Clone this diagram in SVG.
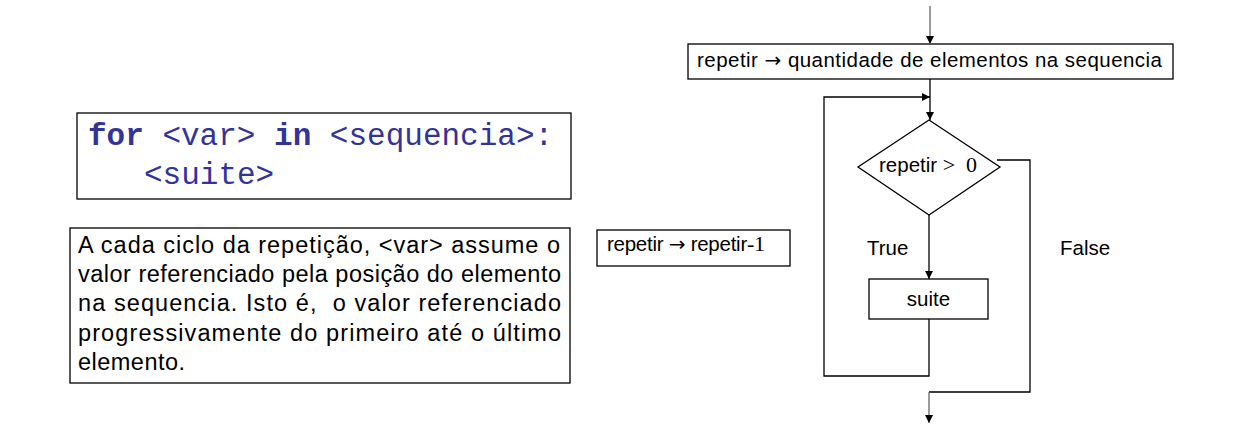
<svg xmlns="http://www.w3.org/2000/svg" width="1256" height="434" viewBox="0 0 1256 434">
<style>
.box{fill:#fff;stroke:#000;stroke-width:1.3}
.ln{fill:none;stroke:#000;stroke-width:1.3}
.gl{fill:none;stroke:#666;stroke-width:1.3}
.t{font-family:"Liberation Sans",Arial,sans-serif;font-size:20.5px;fill:#000}
.s{font-family:"Liberation Serif","Times New Roman",serif;font-size:22px}
.ar{font-family:"DejaVu Sans",sans-serif;font-size:20px}
.code{font-family:"Liberation Mono","Courier New",monospace;font-size:31px;fill:#333399}
.kw{font-weight:bold}
.body{font-family:"Liberation Sans",Arial,sans-serif;font-size:23.5px;fill:#000;white-space:pre}
</style>
<defs>
<marker id="ah" viewBox="0 0 10 10" refX="10" refY="5" markerWidth="8" markerHeight="8" markerUnits="userSpaceOnUse" orient="auto">
<path d="M0,0 L10,5 L0,10 z" fill="#000"/>
</marker>
</defs>
<rect width="1256" height="434" fill="#fff"/>

<g id="code">
<rect class="box" x="77" y="113" width="494" height="86"/>
<text class="code" x="88" y="145"><tspan class="kw">for</tspan> &lt;var&gt; <tspan class="kw">in</tspan> &lt;sequencia&gt;:</text>
<text class="code" x="144" y="184">&lt;suite&gt;</text>
</g>

<g id="explanation">
<rect class="box" x="70" y="228" width="500" height="155"/>
<text class="body" x="78" y="253" textLength="482" lengthAdjust="spacing">A cada ciclo da repetição, &lt;var&gt; assume o</text>
<text class="body" x="78" y="282" textLength="483" lengthAdjust="spacing">valor referenciado pela posição do elemento</text>
<text class="body" x="78" y="311" textLength="483" lengthAdjust="spacing">na sequencia. Isto é,  o valor referenciado</text>
<text class="body" x="78" y="341" textLength="483" lengthAdjust="spacing">progressivamente do primeiro até o último</text>
<text class="body" x="78" y="370" textLength="107" lengthAdjust="spacing">elemento.</text>
</g>

<g id="decrement">
<rect class="box" x="597" y="230" width="193" height="36"/>
<text class="t" x="607" y="251" textLength="158" lengthAdjust="spacing">repetir <tspan class="ar">→</tspan> repetir<tspan class="s" font-size="20px">-1</tspan></text>
</g>

<g id="init">
<rect class="box" x="688" y="44" width="485" height="35"/>
<text class="t" x="697" y="67" textLength="465" lengthAdjust="spacing">repetir <tspan class="ar">→</tspan> quantidade de elementos na sequencia</text>
</g>

<g id="cond">
<polygon class="box" points="929,120 1000,167 929,215 858,167"/>
<text class="t" x="879" y="172">repetir <tspan class="s">&gt;</tspan><tspan class="s" x="966">0</tspan></text>
</g>

<g id="suite">
<rect class="box" x="869" y="279" width="119" height="40"/>
<text class="t" x="928.5" y="306" text-anchor="middle">suite</text>
</g>

<g id="labels">
<text class="t" x="867" y="255">True</text>
<text class="t" x="1060" y="255">False</text>
</g>

<g id="connectors">
<line class="gl" x1="930" y1="6" x2="930" y2="44" marker-end="url(#ah)"/>
<line class="ln" x1="930" y1="79" x2="930" y2="120" marker-end="url(#ah)"/>
<polyline class="ln" points="929,319 929,376 824,376 824,97 930,97" marker-end="url(#ah)"/>
<line class="ln" x1="929" y1="215" x2="929" y2="279" marker-end="url(#ah)"/>
<polyline class="ln" points="997,160 1030,160 1030,392 929,392"/>
<line class="gl" x1="929" y1="392" x2="929" y2="423" marker-end="url(#ah)"/>
</g>
</svg>
